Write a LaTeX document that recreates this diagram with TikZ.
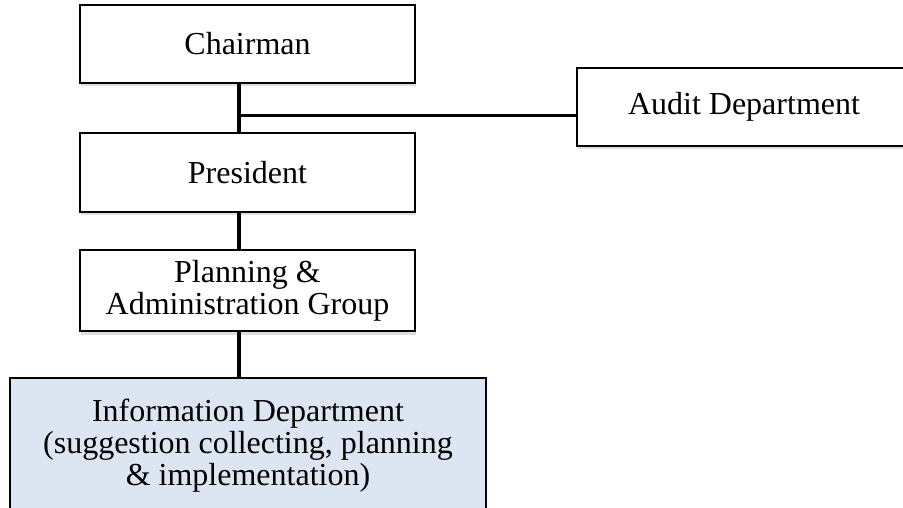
\documentclass[tikz,border=0pt]{standalone}
\usepackage{fontspec}
\setmainfont{Liberation Serif}
\usetikzlibrary{shadows}
\definecolor{infofill}{RGB}{220,230,242}
\begin{document}
\begin{tikzpicture}[x=1pt,y=-1pt,
  orgbox/.style={draw=black, line width=1.9pt, fill=white, rectangle,
    inner sep=0pt, align=center,
    font=\fontsize{32}{32}\selectfont,
    drop shadow={opacity=0.25, shadow xshift=0.5pt, shadow yshift=-3.5pt}},
  link/.style={line width=3.2pt, line cap=butt}]
\useasboundingbox (0,0) rectangle (903,508);
\clip (0,0) rectangle (903,508);

% boxes
\node[orgbox, minimum width=335pt, minimum height=78pt] (chair) at (247.5,44) {Chairman};
\node[orgbox, minimum width=334pt, minimum height=78pt] (audit) at (744,107) {Audit Department};
\node[orgbox, minimum width=335pt, minimum height=79pt] (pres) at (247.5,172.5) {President};
\node[orgbox, minimum width=335pt, minimum height=81pt] (plan) at (247.5,290.5)
  {Planning \&\\Administration Group};
\node[orgbox, fill=infofill, minimum width=476pt, minimum height=136pt] (info) at (248,446)
  {Information Department\\(suggestion collecting, planning\\\& implementation)};

% connectors
\coordinate (spine) at (239,0);
\coordinate (tee) at (239,115.5);
\draw[link] (chair.south -| spine) -- (pres.north -| spine);
\draw[link] (tee) -- (tee -| audit.west);
\draw[link] (pres.south -| spine) -- (plan.north -| spine);
\draw[link] (plan.south -| spine) -- (info.north -| spine);
\end{tikzpicture}
\end{document}
